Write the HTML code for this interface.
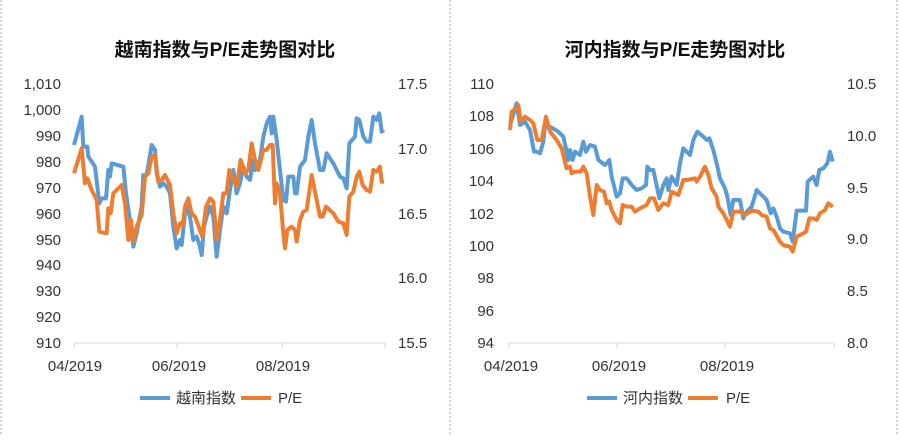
<!DOCTYPE html>
<html><head><meta charset="utf-8"><style>
body{margin:0;background:#fff;}
svg text{font-family:"Liberation Sans","Noto Sans CJK SC",sans-serif;fill:#333;}
</style></head><body>
<svg width="900" height="435" viewBox="0 0 900 435" xmlns="http://www.w3.org/2000/svg">
<rect x="0" y="0" width="900" height="435" fill="#fff"/>
<line x1="1" y1="0" x2="1" y2="435" stroke="#aaa" stroke-dasharray="2,2"/>
<line x1="450" y1="0" x2="450" y2="435" stroke="#aaa" stroke-dasharray="2,2"/>
<line x1="897" y1="0" x2="897" y2="435" stroke="#aaa" stroke-dasharray="2,2"/>
<!-- Left chart -->
<text x="225" y="56" font-size="19" font-weight="bold" text-anchor="middle" style="fill:#111">越南指数与P/E走势图对比</text>
<g font-size="15" text-anchor="end">
<text x="61" y="89">1,010</text><text x="61" y="115">1,000</text><text x="61" y="141">990</text><text x="61" y="167">980</text><text x="61" y="193">970</text><text x="61" y="219">960</text><text x="61" y="245">950</text><text x="61" y="270">940</text><text x="61" y="296">930</text><text x="61" y="322">920</text><text x="61" y="348">910</text>
</g>
<g font-size="15">
<text x="398" y="89">17.5</text><text x="398" y="154">17.0</text><text x="398" y="219">16.5</text><text x="398" y="283">16.0</text><text x="398" y="348">15.5</text>
</g>
<line x1="74" y1="343" x2="385" y2="343" stroke="#d9d9d9"/>
<g stroke="#d9d9d9"><line x1="74" y1="343" x2="74" y2="348"/><line x1="177" y1="343" x2="177" y2="348"/><line x1="282" y1="343" x2="282" y2="348"/><line x1="385" y1="343" x2="385" y2="348"/></g>
<g font-size="15" text-anchor="middle"><text x="75" y="371">04/2019</text><text x="179" y="371">06/2019</text><text x="283" y="371">08/2019</text></g>
<g transform="translate(0,60) scale(0.33333)" fill="none" stroke-width="12" stroke-linejoin="round">
<polyline stroke="#5b9bd5" points="222,255 245,170 250,260 262,260 265,290 285,320 298,430 305,415 318,415 325,330 330,350 335,310 370,320 378,400 390,480 400,560 410,520 425,440 430,345 440,345 455,255 465,270 470,340 480,380 490,370 500,380 510,400 520,500 530,565 540,540 545,555 555,460 560,440 570,470 580,540 590,530 600,560 605,585 612,500 620,470 630,440 640,470 650,590 660,510 670,440 680,460 690,390 700,330 710,400 720,370 730,320 740,350 750,360 760,300 765,330 780,300 790,230 800,190 810,170 815,220 820,170 830,240 840,330 850,420 858,425 865,350 880,350 885,400 890,400 900,320 915,300 925,230 935,180 945,250 960,330 970,330 980,280 1000,310 1020,350 1030,355 1040,385 1048,250 1065,230 1070,175 1078,180 1090,230 1100,245 1110,245 1120,170 1130,180 1138,160 1145,215 1152,210"/>
<polyline stroke="#ed7d31" points="222,340 245,265 255,370 262,355 275,390 290,420 298,515 320,520 325,445 332,460 340,400 365,375 375,430 385,540 393,480 400,545 410,500 425,465 435,350 445,340 455,290 465,285 475,365 485,360 495,345 510,375 520,460 530,520 540,490 548,495 555,440 565,415 575,460 585,470 600,510 607,530 618,440 630,415 640,425 650,540 660,480 670,400 680,400 688,330 700,360 710,380 722,300 735,340 745,330 755,250 765,300 775,330 790,270 800,270 810,255 818,255 825,430 830,370 840,400 850,520 855,565 862,510 875,500 885,510 890,545 900,480 910,455 920,450 935,345 945,395 960,470 968,470 978,440 1000,460 1015,485 1030,490 1040,525 1048,410 1060,395 1070,350 1078,335 1088,375 1100,390 1110,395 1120,330 1130,335 1140,320 1145,365 1152,365"/>
</g>
<line x1="140" y1="398" x2="170" y2="398" stroke="#5b9bd5" stroke-width="4"/>
<text x="176" y="403" font-size="15">越南指数</text>
<line x1="241" y1="398" x2="271" y2="398" stroke="#ed7d31" stroke-width="4"/>
<text x="278" y="403" font-size="15">P/E</text>
<!-- Right chart -->
<text x="675" y="56" font-size="19" font-weight="bold" text-anchor="middle" style="fill:#111">河内指数与P/E走势图对比</text>
<g font-size="15" text-anchor="end">
<text x="494" y="89">110</text><text x="494" y="121">108</text><text x="494" y="154">106</text><text x="494" y="186">104</text><text x="494" y="219">102</text><text x="494" y="251">100</text><text x="494" y="283">98</text><text x="494" y="316">96</text><text x="494" y="348">94</text>
</g>
<g font-size="15">
<text x="847" y="89">10.5</text><text x="847" y="141">10.0</text><text x="847" y="193">9.5</text><text x="847" y="244">9.0</text><text x="847" y="296">8.5</text><text x="847" y="348">8.0</text>
</g>
<line x1="509" y1="343" x2="834" y2="343" stroke="#d9d9d9"/>
<g stroke="#d9d9d9"><line x1="509" y1="343" x2="509" y2="348"/><line x1="617" y1="343" x2="617" y2="348"/><line x1="725" y1="343" x2="725" y2="348"/><line x1="834" y1="343" x2="834" y2="348"/></g>
<g font-size="15" text-anchor="middle"><text x="511" y="371">04/2019</text><text x="619" y="371">06/2019</text><text x="727" y="371">08/2019</text></g>
<g transform="translate(450,60) scale(0.33333)" fill="none" stroke-width="12" stroke-linejoin="round">
<polyline stroke="#5b9bd5" points="180,195 200,130 210,195 225,185 240,210 252,275 260,275 270,280 280,245 285,200 300,200 325,215 340,230 350,275 355,300 360,270 368,300 375,275 390,285 400,245 408,275 420,255 435,260 445,300 465,315 478,300 485,350 500,410 510,400 518,355 530,355 545,375 560,390 575,385 588,375 592,320 600,330 610,330 628,415 640,375 650,355 655,390 665,350 680,375 690,310 700,265 710,275 720,285 730,240 742,215 760,230 770,240 778,235 790,270 800,310 810,355 825,385 832,410 842,465 850,420 870,420 880,475 890,455 905,440 920,390 935,405 950,420 962,460 970,445 980,470 990,505 1000,515 1020,520 1028,545 1040,452 1055,452 1068,452 1073,365 1090,350 1100,375 1108,330 1120,325 1132,310 1140,275 1148,305"/>
<polyline stroke="#ed7d31" points="180,210 185,155 198,145 205,135 212,185 225,170 240,180 250,190 262,240 275,240 288,170 300,215 320,240 335,265 350,325 360,320 365,340 375,335 392,335 400,320 410,340 420,410 430,465 440,375 450,390 462,395 470,430 478,425 485,450 500,480 510,490 518,435 530,440 545,440 555,455 570,445 590,435 600,415 612,415 625,450 640,430 655,435 665,395 685,405 700,360 712,360 735,355 740,365 750,350 765,320 775,345 785,385 800,410 805,440 820,460 835,490 840,500 850,455 870,455 885,465 900,455 910,452 925,455 935,465 950,470 960,505 970,510 990,545 1000,555 1020,560 1028,575 1040,530 1060,520 1068,515 1078,475 1092,475 1100,480 1110,460 1125,450 1135,430 1148,440"/>
</g>
<line x1="587" y1="398" x2="617" y2="398" stroke="#5b9bd5" stroke-width="4"/>
<text x="623" y="403" font-size="15">河内指数</text>
<line x1="688" y1="398" x2="718" y2="398" stroke="#ed7d31" stroke-width="4"/>
<text x="726" y="403" font-size="15">P/E</text>
</svg>
</body></html>
